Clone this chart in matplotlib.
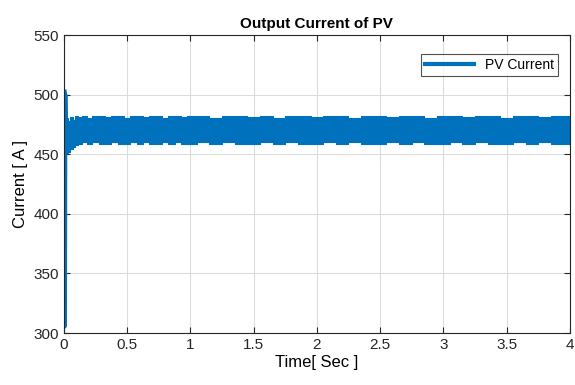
import matplotlib.pyplot as plt
from matplotlib.lines import Line2D

plt.rcParams['font.family'] = ['Liberation Sans Narrow', 'Liberation Sans', 'DejaVu Sans']

# transitorio inicial (lectura del gráfico)
t_ini = [0.0, 0.003, 0.006, 0.010, 0.015, 0.020]
i_ini = [502, 306, 500, 470, 455, 462]

# envolvente de la corriente oscilante
t_env = [0.02, 0.04, 0.06, 0.08, 0.10, 0.13, 0.16, 0.20, 0.25, 0.30, 0.35, 0.40,
         0.45, 0.50, 0.55, 0.60, 0.65, 0.70, 0.75, 0.80, 0.85, 0.90, 0.95, 1.00,
         1.10, 1.20, 1.30, 1.40, 1.50, 1.60, 1.70, 1.80, 1.90, 2.00, 2.10, 2.20,
         2.30, 2.40, 2.50, 2.60, 2.70, 2.80, 2.90, 3.00, 3.10, 3.20, 3.30, 3.40,
         3.50, 3.60, 3.70, 3.80, 3.90, 4.00]
i_sup = [480, 478, 481, 479, 482, 481, 482, 480.5, 482, 482, 481, 482,
         482, 480.5, 482, 482, 481, 482, 482, 480.5, 482, 482, 481, 482,
         482, 480.5, 482, 482, 481, 482, 480.5, 482, 482, 481, 482, 482,
         480.5, 482, 482, 481, 482, 482, 480.5, 482, 482, 481, 482, 482,
         480.5, 482, 482, 481, 482, 482]
i_inf = [451, 452, 454, 456, 458, 459, 460, 459, 460.5, 459, 459, 460.5,
         459, 459, 460, 459, 460.5, 459, 459, 460, 459, 460.5, 459, 459,
         460, 459, 460.5, 459, 459, 460, 459, 460.5, 459, 459, 460, 459,
         460.5, 459, 459, 460, 459, 460.5, 459, 459, 460, 459, 460.5, 459,
         459, 460, 459, 460.5, 459, 459]

color = '#0072BD'

fig = plt.figure(figsize=(5.75, 3.85), dpi=100)
ax = fig.add_axes([0.111, 0.135, 0.880, 0.774])

ax.plot(t_ini, i_ini, color=color, lw=4)
ax.fill_between(t_env, i_inf, i_sup, step='mid', color=color, lw=0.8, edgecolor=color)

ax.set_xlim(0, 4)
ax.set_ylim(300, 550)
ax.set_xticks([0, 0.5, 1, 1.5, 2, 2.5, 3, 3.5, 4])
ax.set_xticklabels(['0', '0.5', '1', '1.5', '2', '2.5', '3', '3.5', '4'])
ax.set_yticks([300, 350, 400, 450, 500, 550])
ax.grid(True, color='#dcdcdc', lw=0.8)
ax.set_axisbelow(True)
ax.tick_params(direction='in', top=True, right=True, labelsize=11, colors='#262626', length=4)
for s in ax.spines.values():
    s.set_color('#262626')
    s.set_linewidth(0.8)

ax.set_title('Output Current of PV', fontsize=11, fontweight='bold', pad=5)
ax.set_xlabel('Time[ Sec ]', fontsize=12, labelpad=2)
ax.set_ylabel('Current [ A ]', fontsize=12, labelpad=4)

h = Line2D([0], [0], color=color, lw=3)
leg = ax.legend([h], ['PV Current'], loc='upper right', fontsize=10, frameon=True,
                fancybox=False, edgecolor='#262626', handlelength=3.5,
                bbox_to_anchor=(0.99, 0.96), borderpad=0.3)
leg.get_frame().set_linewidth(0.8)

plt.savefig('out.png')
plt.close()
